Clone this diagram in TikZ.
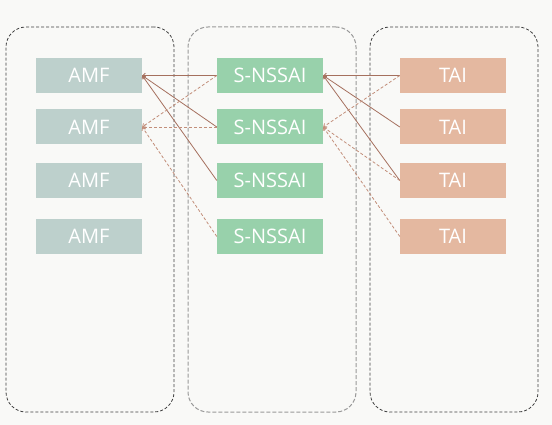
\documentclass[tikz,border=0pt]{standalone}
\usepackage{fontspec}
\setmainfont{Open Sans}
\usetikzlibrary{arrows.meta}

\definecolor{bgcol}{HTML}{F9F9F7}
\definecolor{amfcol}{HTML}{BDD0CC}
\definecolor{nssaicol}{HTML}{98D1AB}
\definecolor{taicol}{HTML}{E4B8A0}
\definecolor{linkcol}{HTML}{A5705E}
\definecolor{dashcol}{HTML}{C28E7A}

\tikzset{
    group/.style={draw=black!75, dash pattern=on 3pt off 2pt, line width=0.8pt,
        rounded corners=20pt, minimum width=168pt, minimum height=385pt},
    box/.style={minimum width=106pt, minimum height=35pt, inner sep=0pt,
        text=white, font=\fontsize{20}{22}\selectfont},
    solidlink/.style={draw=linkcol, line width=0.8pt, -{Straight Barb[length=2.5pt,width=4.5pt]}},
    dashlink/.style={draw=dashcol, line width=0.8pt, dash pattern=on 3pt off 2pt,
        -{Straight Barb[length=2.5pt,width=4.5pt]}}
}

\begin{document}
\begin{tikzpicture}[x=1pt, y=-1pt]
        \fill[bgcol] (0,0) rectangle (552,425);
        \useasboundingbox (0,0) rectangle (552,425);

        \node[group] (LEFTGRP) at (90,219.5) {};
        \node[group, draw=black!40, dash pattern=on 4pt off 2pt, line width=1pt] (MIDGRP) at (272,219.5) {};
        \node[group] (RIGHTGRP) at (454,219.5) {};

        \node[box, fill=amfcol] (AMF1) at (89,75.5) {AMF};
        \node[box, fill=amfcol] (AMF2) at (89,127) {AMF};
        \node[box, fill=amfcol] (AMF3) at (89,180.5) {AMF};
        \node[box, fill=amfcol] (AMF4) at (89,236.5) {AMF};

        \node[box, fill=nssaicol] (SNSSAI1) at (270,75.5) {S-NSSAI};
        \node[box, fill=nssaicol] (SNSSAI2) at (270,127) {S-NSSAI};
        \node[box, fill=nssaicol] (SNSSAI3) at (270,180.5) {S-NSSAI};
        \node[box, fill=nssaicol] (SNSSAI4) at (270,236.5) {S-NSSAI};

        \node[box, fill=taicol] (TAI1) at (453,75.5) {TAI};
        \node[box, fill=taicol] (TAI2) at (453,127) {TAI};
        \node[box, fill=taicol] (TAI3) at (453,180.5) {TAI};
        \node[box, fill=taicol] (TAI4) at (453,236.5) {TAI};

        \draw[solidlink] (SNSSAI1.west) -- (AMF1.east);
        \draw[solidlink] (SNSSAI2.west) -- (AMF1.east);
        \draw[solidlink] (SNSSAI3.west) -- (AMF1.east);
        \draw[dashlink] (SNSSAI1.west) -- (AMF2.east);
        \draw[dashlink] (SNSSAI2.west) -- (AMF2.east);
        \draw[dashlink] (SNSSAI4.west) -- (AMF2.east);

        \draw[solidlink] (TAI1.west) -- (SNSSAI1.east);
        \draw[solidlink] (TAI2.west) -- (SNSSAI1.east);
        \draw[solidlink] (TAI3.west) -- (SNSSAI1.east);
        \draw[dashlink] (TAI1.west) -- (SNSSAI2.east);
        \draw[dashlink] (TAI3.west) -- (SNSSAI2.east);
        \draw[dashlink] (TAI4.west) -- (SNSSAI2.east);
\end{tikzpicture}
\end{document}
